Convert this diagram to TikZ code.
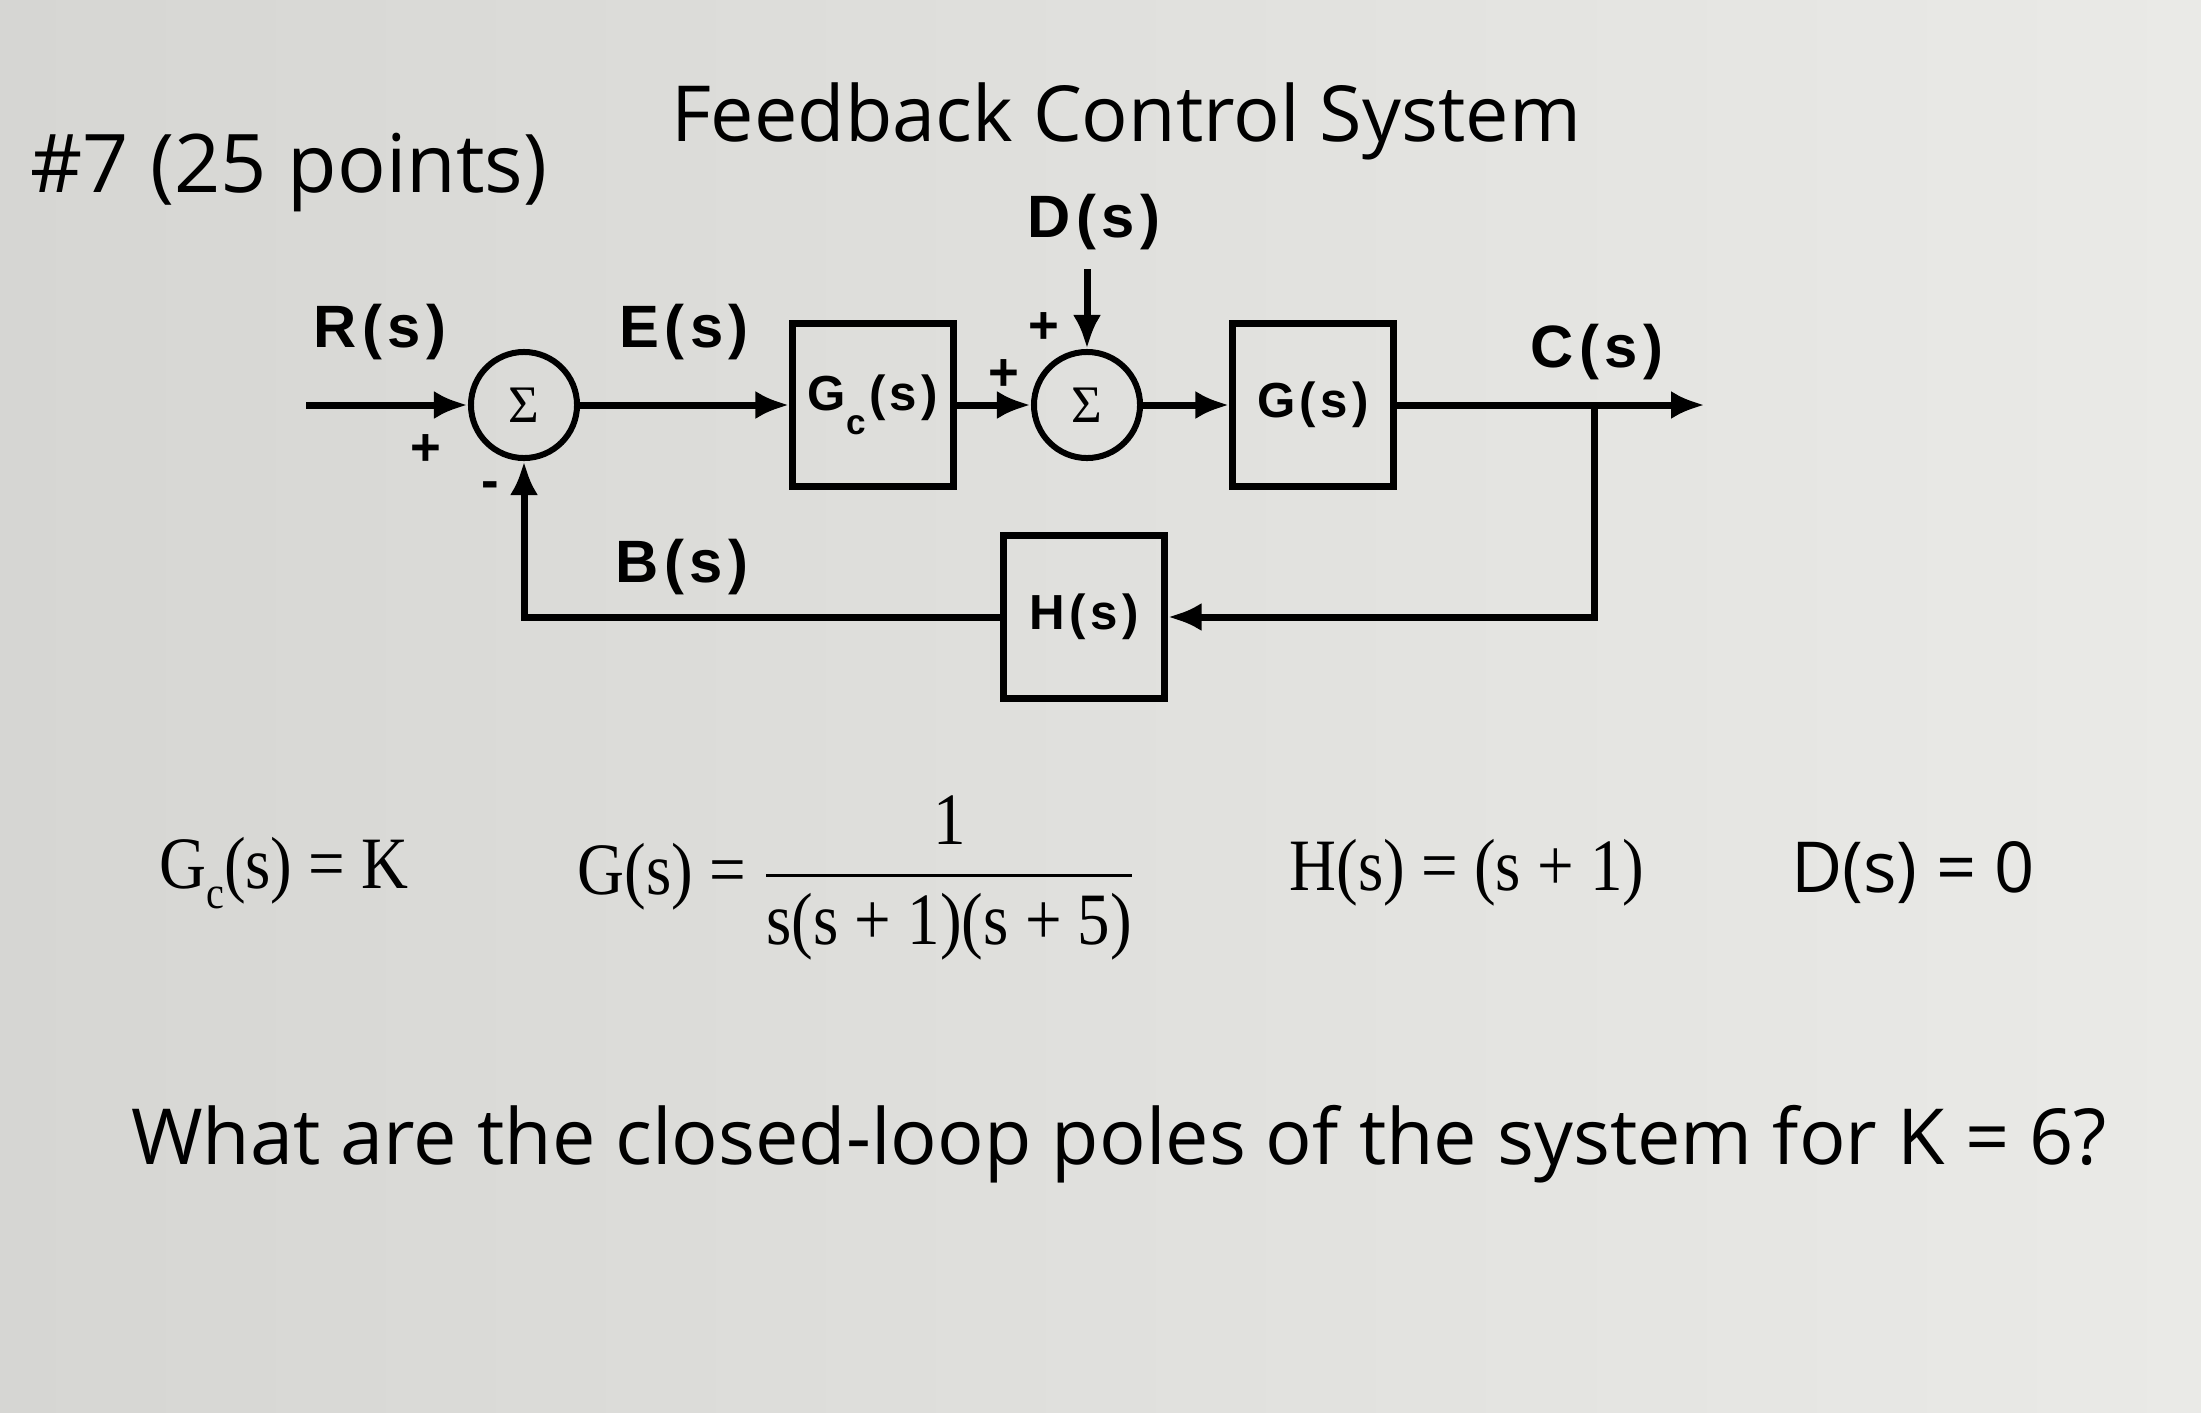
\documentclass[tikz,border=0pt]{standalone}
\usepackage{fontspec}
\usepackage{amsmath}
\setmainfont{Liberation Serif}
\newfontfamily\arialfont[LetterSpace=9]{Liberation Sans}
\newfontfamily\narrowserif[FakeStretch=0.88]{Liberation Serif}
\newfontfamily\comicfont{Open Sans}
\usetikzlibrary{arrows.meta}
\definecolor{paperdark}{RGB}{214,214,211}
\definecolor{paperlight}{RGB}{234,234,231}

\begin{document}
\begin{tikzpicture}[x=0.01cm,y=-0.01cm,
    block/.style={draw,line width=0.7mm,minimum width=1.6cm,minimum height=1.62cm,inner sep=0pt,
      font=\arialfont\bfseries\fontsize{14}{16}\selectfont},
    sum/.style={draw,circle,line width=0.6mm,minimum size=1.06cm,inner sep=0pt,
      font=\fontsize{15}{17}\selectfont},
    sig/.style={line width=0.7mm,-{Latex[length=3.4mm,width=2.8mm]}},
    siglabel/.style={font=\arialfont\bfseries\fontsize{17}{20}\selectfont},
    pmsign/.style={inner sep=0pt,font=\arialfont\bfseries\fontsize{15}{18}\selectfont},
    eq/.style={font=\narrowserif\fontsize{21}{25}\selectfont},
    comic/.style={font=\comicfont\fontsize{22}{27}\selectfont}]
   \shade[left color=paperdark,right color=paperlight] (0,0) rectangle (2201,1412);
   \useasboundingbox (0,0) rectangle (2201,1412);

   \node[comic] (title) at (1126,121) {Feedback Control System};
   \node[comic,font=\comicfont\fontsize{23}{28}\selectfont] (num) at (289,173) {\#7 (25 points)};

   \node[sum] (s1) at (524,405) {Σ};
   \node[block] (gc) at (873,405) {G\raisebox{-0.9ex}{\fontsize{10}{12}\selectfont c}\kern1pt(s)};
   \node[sum] (s2) at (1087,405) {Σ};
   \node[block] (g) at (1313,405) {G(s)};
   \node[block] (h) at (1084,617) {H(s)};
   \coordinate (in) at (306,405);
   \coordinate (out) at (1705,405);
   \coordinate (br) at (1594,405);
   \coordinate (dist) at (1087,269);

   \draw[sig] (in) -- (s1);
   \draw[sig] (s1) -- (gc);
   \draw[sig] (gc) -- (s2);
   \draw[sig] (s2) -- (g);
   \draw[sig] (g) -- (out);
   \draw[sig] (dist) -- (s2);
   \draw[sig] (br) |- (h);
   \draw[sig] (h) -| (s1);

   \foreach \x/\y/\t/\n in
     { 380/332/R/rlab,
       684/332/E/elab,
       682/567/B/blab,
      1094/222/D/dlab,
      1597/352/C/clab
     }
     \node[siglabel] (\n) at (\x,\y) {\t(s)};
   \foreach \x/\y/\t [count=\i] in
     { 426/450/+,
       490/490/-,
      1004/375/+,
      1044/328/+
     }
     \node[pmsign] (sign\i) at (\x,\y) {\t};

   \node[eq] (gceq) at (284,873) {G\raisebox{-0.6ex}{\fontsize{13}{15}\selectfont c}(s) = K};
   \node[eq] (geq) at (857,878) {G(s) = $\dfrac{\text{1}}{\text{s(s + 1)(s + 5)}}$};
   \node[eq] (heq) at (1467,873) {H(s) = (s + 1)};
   \node[comic,font=\comicfont\fontsize{20}{24}\selectfont] (deq) at (1913,873) {D(s) = 0};

   \node[comic] (quest) at (1119,1144) {What are the closed-loop poles of the system for K = 6?};
\end{tikzpicture}
\end{document}
